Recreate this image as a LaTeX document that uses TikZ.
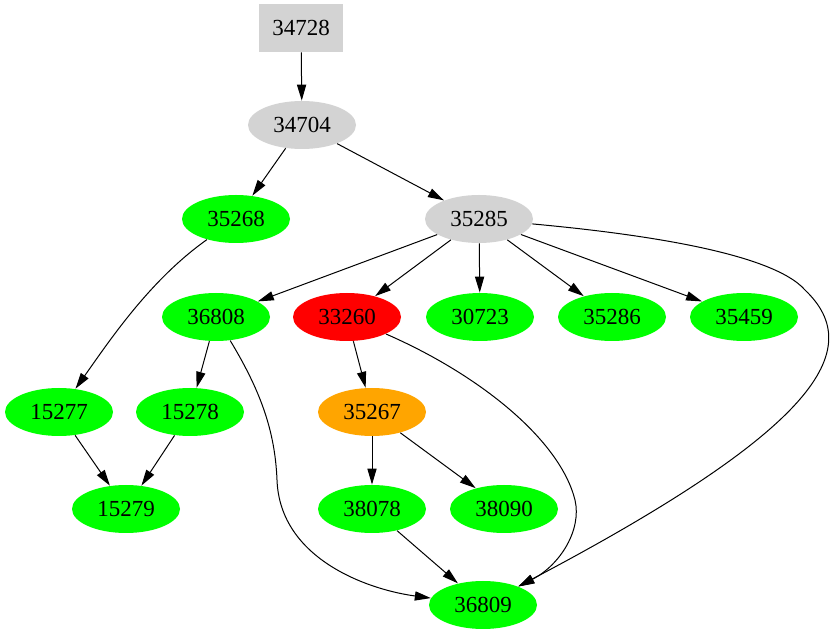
\documentclass[tikz,border=0pt]{standalone}
\usepackage{fontspec}
\setmainfont{Liberation Serif}
\usetikzlibrary{shapes.geometric,arrows.meta}

\definecolor{gvgray}{HTML}{D3D3D3}
\definecolor{gvgreen}{HTML}{00FF00}
\definecolor{gvred}{HTML}{FF0000}
\definecolor{gvorange}{HTML}{FFA500}

\begin{document}
\begin{tikzpicture}[x=0.5pt, y=-0.5pt,
        every node/.style={font=\fontsize{11.5}{13}\selectfont},
        job/.style={ellipse, minimum width=54pt, minimum height=24pt, inner sep=0pt},
        root/.style={rectangle, fill=gvgray, minimum width=42pt, minimum height=24pt, inner sep=0pt},
        ok/.style={job, fill=gvgreen},
        bad/.style={job, fill=gvred},
        wait/.style={job, fill=gvorange},
        idle/.style={job, fill=gvgray},
        dep/.style={-{Triangle[length=8pt, width=4.6pt]}, black, line width=0.5pt}]
        \useasboundingbox (0,0) rectangle (836,635);
        \node[root] (n34728) at (301,28) {34728};
        \node[idle] (n34704) at (302,125) {34704};
        \node[ok] (n35268) at (236,219) {35268};
        \node[idle] (n35285) at (479,219) {35285};
        \node[ok] (n36808) at (216,317) {36808};
        \node[bad] (n33260) at (347,317) {33260};
        \node[ok] (n30723) at (480,317) {30723};
        \node[ok] (n35286) at (612,317) {35286};
        \node[ok] (n35459) at (744,317) {35459};
        \node[ok] (n15277) at (59,412) {15277};
        \node[ok] (n15278) at (190,412) {15278};
        \node[wait] (n35267) at (372,412) {35267};
        \node[ok] (n15279) at (126,509) {15279};
        \node[ok] (n38078) at (372,509) {38078};
        \node[ok] (n38090) at (504,509) {38090};
        \node[ok] (n36809) at (483,605) {36809};
        \draw[dep] (n34728) -- (n34704);
        \draw[dep] (n34704) -- (n35268);
        \draw[dep] (n34704) -- (n35285);
        \draw[dep] (n35268) .. controls (150,280) and (110,340) .. (n15277);
        \draw[dep] (n35285) -- (n36808);
        \draw[dep] (n35285) -- (n33260);
        \draw[dep] (n35285) -- (n30723);
        \draw[dep] (n35285) -- (n35286);
        \draw[dep] (n35285) -- (n35459);
        \draw[dep] (n35285) .. controls (620,232) and (770,250) .. (805,290)
            .. controls (868,350) and (815,430) .. (n36809);
        \draw[dep] (n36808) -- (n15278);
        \draw[dep] (n36808) .. controls (260,390) and (275,430) .. (277,480)
            .. controls (280,560) and (370,590) .. (n36809);
        \draw[dep] (n33260) -- (n35267);
        \draw[dep] (n33260) .. controls (480,375) and (560,440) .. (575,500)
            .. controls (582,530) and (560,565) .. (n36809);
        \draw[dep] (n15277) -- (n15279);
        \draw[dep] (n15278) -- (n15279);
        \draw[dep] (n35267) -- (n38078);
        \draw[dep] (n35267) -- (n38090);
        \draw[dep] (n38078) -- (n36809);
\end{tikzpicture}
\end{document}
